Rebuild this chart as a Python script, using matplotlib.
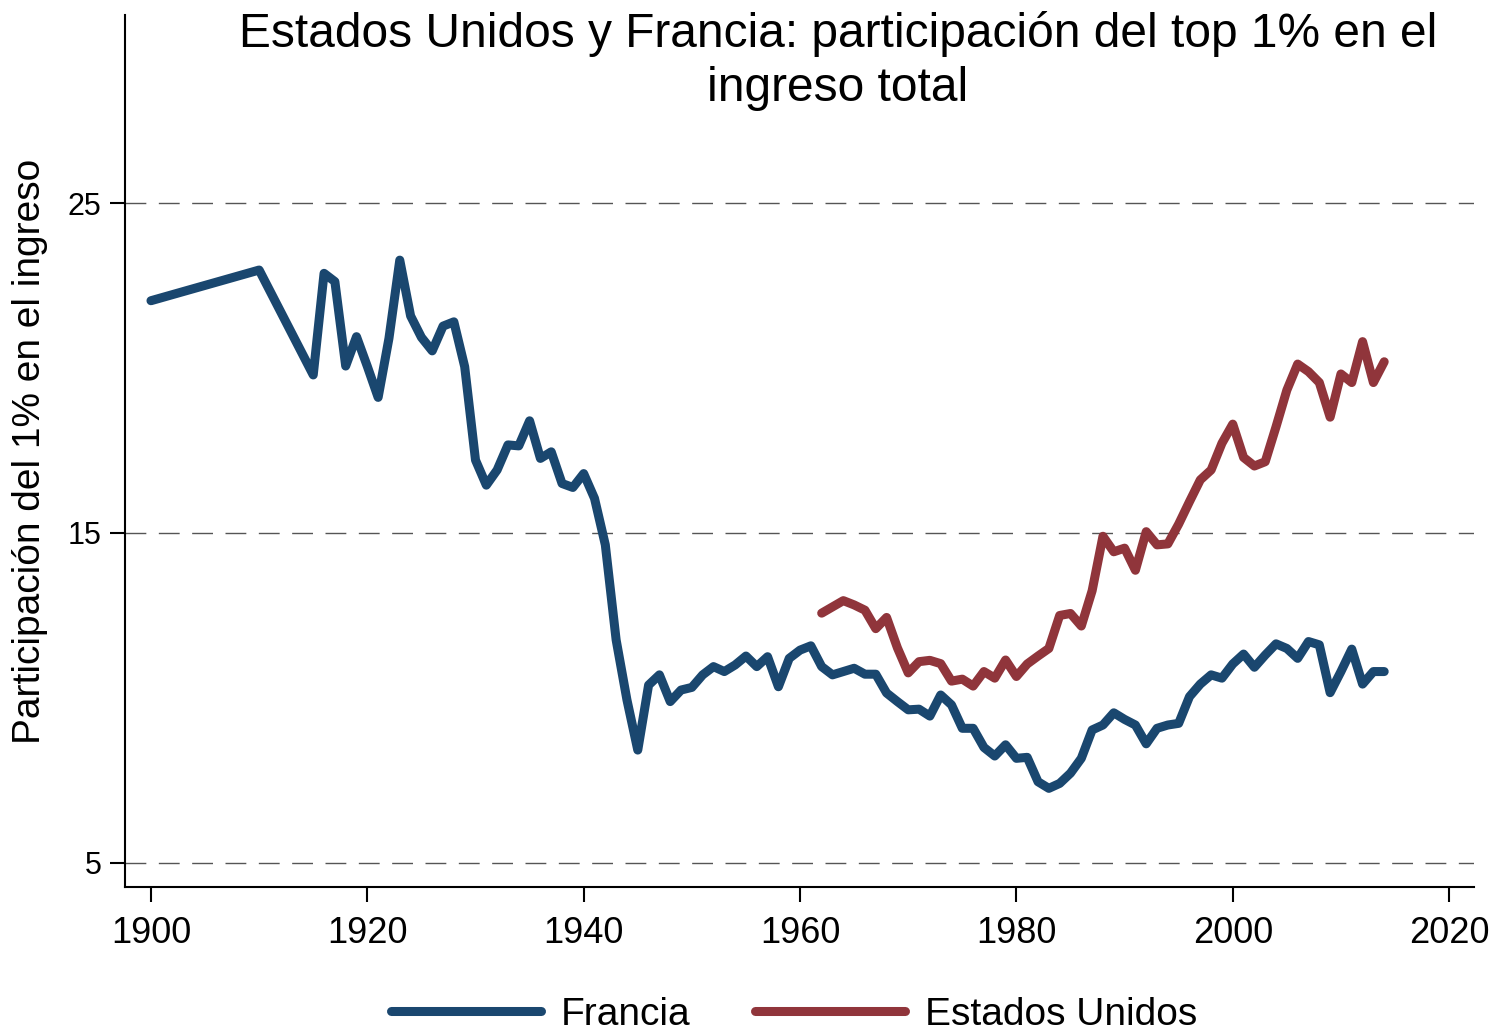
import matplotlib
matplotlib.use("Agg")
import matplotlib.pyplot as plt

plt.rcParams["font.family"] = ["Liberation Sans", "DejaVu Sans"]

# Francia: participación del top 1%
fr_years = [1900, 1910, 1915, 1916, 1917, 1918, 1919, 1920, 1921, 1922, 1923, 1924,
            1925, 1926, 1927, 1928, 1929, 1930, 1931, 1932, 1933, 1934, 1935, 1936,
            1937, 1938, 1939, 1940, 1941, 1942, 1943, 1944, 1945, 1946, 1947, 1948,
            1949, 1950, 1951, 1952, 1953, 1954, 1955, 1956, 1957, 1958, 1959, 1960,
            1961, 1962, 1963, 1964, 1965, 1966, 1967, 1968, 1969, 1970, 1971, 1972,
            1973, 1974, 1975, 1976, 1977, 1978, 1979, 1980, 1981, 1982, 1983, 1984,
            1985, 1986, 1987, 1988, 1989, 1990, 1991, 1992, 1993, 1994, 1995, 1996,
            1997, 1998, 1999, 2000, 2001, 2002, 2003, 2004, 2005, 2006, 2007, 2008,
            2009, 2010, 2011, 2012, 2013, 2014]
fr_share = [22.04, 22.97, 19.79, 22.87, 22.62, 20.06, 20.95, 20.05, 19.11, 20.9, 23.27, 21.58,
            20.93, 20.52, 21.27, 21.4, 20.04, 17.21, 16.45, 16.91, 17.67, 17.64, 18.4, 17.26,
            17.46, 16.5, 16.38, 16.8, 16.05, 14.64, 11.76, 9.94, 8.42, 10.39, 10.7, 9.89,
            10.24, 10.32, 10.7, 10.95, 10.8, 11.0, 11.27, 10.95, 11.25, 10.34, 11.2, 11.45,
            11.58, 10.95, 10.7, 10.8, 10.9, 10.72, 10.72, 10.15, 9.89, 9.64, 9.66, 9.45,
            10.09, 9.79, 9.08, 9.08, 8.5, 8.24, 8.58, 8.17, 8.2, 7.46, 7.26, 7.41,
            7.72, 8.17, 9.03, 9.18, 9.55, 9.35, 9.18, 8.61, 9.08, 9.18, 9.23, 10.04,
            10.42, 10.7, 10.6, 11.03, 11.33, 10.93, 11.3, 11.64, 11.5, 11.2, 11.71, 11.61,
            10.16, 10.8, 11.48, 10.42, 10.8, 10.8]

# Estados Unidos
us_years = list(range(1962, 2015))
us_share = [12.57, 12.76, 12.95, 12.82, 12.66, 12.1, 12.44, 11.52, 10.76, 11.1, 11.14, 11.04,
            10.51, 10.57, 10.36, 10.8, 10.6, 11.15, 10.65, 11.03, 11.27, 11.5, 12.5, 12.56,
            12.18, 13.25, 14.9, 14.43, 14.54, 13.87, 15.04, 14.64, 14.67, 15.27, 15.95, 16.61,
            16.91, 17.72, 18.3, 17.29, 17.03, 17.16, 18.22, 19.33, 20.12, 19.89, 19.56, 18.51,
            19.82, 19.56, 20.8, 19.56, 20.19]

navy = "#1a476f"
maroon = "#90353b"

fig = plt.figure(figsize=(15.04, 10.30), dpi=100)
ax = fig.add_axes([125 / 1504, 1 - 887 / 1030, 1349 / 1504, 872 / 1030])

for yv in [5, 15, 25]:
    ax.axhline(yv, color="#555555", lw=1.0, dashes=(15, 9), zorder=1)

ax.plot(fr_years, fr_share, color=navy, lw=6.5, label="Francia",
        solid_joinstyle="round", solid_capstyle="round", zorder=3)
ax.plot(us_years, us_share, color=maroon, lw=6.5, label="Estados Unidos",
        solid_joinstyle="round", solid_capstyle="round", zorder=3)

ax.set_xlim(1897.6, 2022.3)
ax.set_ylim(4.27, 30.7)
ax.set_xticks(range(1900, 2021, 20))
ax.set_yticks([5, 15, 25])

for s in ["top", "right"]:
    ax.spines[s].set_visible(False)
for s in ["left", "bottom"]:
    ax.spines[s].set_linewidth(1.5)

ax.tick_params(axis="x", labelsize=26, length=11, width=1.5, pad=10)
ax.tick_params(axis="y", labelsize=22, length=11, width=1.5, pad=6)

ax.set_ylabel("Participación del 1% en el ingreso", fontsize=28)
ax.yaxis.set_label_coords(-0.057, 0.5)

fig.text(838 / 1504, 1 - 61 / 1030,
         "Estados Unidos y Francia: participación del top 1% en el\ningreso total",
         ha="center", va="center", fontsize=34.5, linespacing=1.28)

fig.legend(loc="center", bbox_to_anchor=(794 / 1504, 1 - 1015 / 1030), ncol=2,
           frameon=False, fontsize=28, handlelength=3.86, handletextpad=0.5,
           columnspacing=1.67)

fig.savefig("out.png", dpi=100)
